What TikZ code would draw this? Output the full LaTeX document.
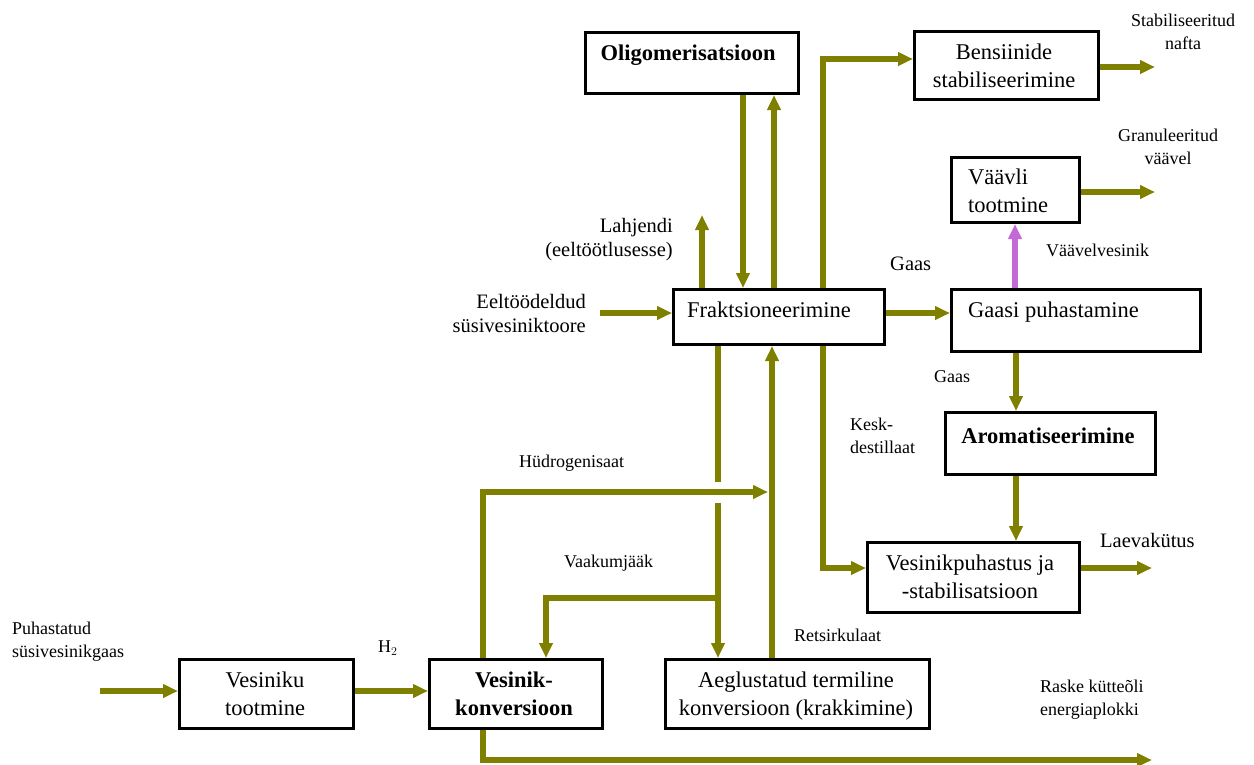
\documentclass[tikz,border=0pt]{standalone}
\usepackage{fontspec}
\setmainfont{Liberation Serif}
\usetikzlibrary{arrows.meta}
\definecolor{flowcol}{RGB}{128,128,0}
\definecolor{sulfcol}{RGB}{196,106,214}
\begin{document}
\begin{tikzpicture}[x=1pt,y=-1pt,
  box/.style={draw=black,line width=3pt,fill=white,anchor=north west,inner sep=0pt},
  flow/.style={draw=flowcol,line width=5.5pt,line join=miter},
  flowarrow/.style={flow,-{Triangle[length=15pt,width=13pt]}},
  sulfarrow/.style={draw=sulfcol,line width=5.5pt,-{Triangle[length=15pt,width=13pt]}},
  boxtxt/.style={font=\fontsize{22.5}{28}\selectfont,inner sep=0pt,align=center},
  boldtxt/.style={font=\fontsize{22.5}{28}\selectfont\bfseries,inner sep=0pt,align=center},
  lab/.style={font=\fontsize{20.5}{24.5}\selectfont,inner sep=0pt},
  small/.style={font=\fontsize{18}{23}\selectfont,inner sep=0pt}]
\useasboundingbox[fill=white] (0,0) rectangle (1254,764);

% boxes
\node[box,minimum width=213pt,minimum height=61pt] (olig) at (584,31) {};
\node[box,minimum width=184pt,minimum height=68pt] (bens) at (913,30) {};
\node[box,minimum width=128pt,minimum height=65pt] (vaav) at (950,156) {};
\node[box,minimum width=249pt,minimum height=62pt] (gaasi) at (950,288) {};
\node[box,minimum width=211pt,minimum height=55pt] (frak) at (672,288) {};
\node[box,minimum width=210pt,minimum height=62pt] (arom) at (944,411) {};
\node[box,minimum width=212pt,minimum height=70pt] (vesp) at (866,541) {};
\node[box,minimum width=174pt,minimum height=69pt] (vtoot) at (178,658) {};
\node[box,minimum width=173pt,minimum height=69pt] (vkonv) at (428,658) {};
\node[box,minimum width=264pt,minimum height=69pt] (aegl) at (664,658) {};

% box texts
\node[boldtxt] (tolig) at (688,55) {Oligomerisatsioon};
\node[boxtxt] (tbens) at (1004,66) {Bensiinide\\stabiliseerimine};
\node[boxtxt,anchor=west,align=left] (tvaav) at (968,191) {Väävli\\tootmine};
\node[boxtxt,anchor=west] (tgaasi) at (968,312) {Gaasi puhastamine};
\node[boxtxt,anchor=west] (tfrak) at (687,310) {Fraktsioneerimine};
\node[boldtxt] (tarom) at (1048,436) {Aromatiseerimine};
\node[boxtxt] (tvesp) at (970,577) {Vesinikpuhastus ja\\-stabilisatsioon};
\node[boxtxt] (tvtoot) at (265,694) {Vesiniku\\tootmine};
\node[boldtxt] (tvkonv) at (514,694) {Vesinik-\\konversioon};
\node[boxtxt] (taegl) at (796,696) {Aeglustatud termiline\\konversioon (krakkimine)};

% route points
\coordinate (inPuh) at (100,691);
\coordinate (hCorner) at (483,492);
\coordinate (hEnd) at (768,492);
\coordinate (rCorner) at (483,760);
\coordinate (rEnd) at (1152,760);
\coordinate (gapTop) at (718,482);
\coordinate (gapBot) at (718,503);
\coordinate (vJoin) at (718,598);
\coordinate (vCorner) at (546,598);
\coordinate (kCorner) at (823,568);
\coordinate (bCorner) at (823,59);
\coordinate (lahEnd) at (702,215);
\coordinate (eelStart) at (600,313);
\coordinate (vaavEnd) at (1155,192);
\coordinate (bensEnd) at (1155,67);
\coordinate (laevEnd) at (1152,568);

% connectors
\draw[flowarrow] (inPuh) -- (vtoot.west |- inPuh);
\draw[flowarrow] (vtoot.east |- inPuh) -- (vkonv.west |- inPuh);
\draw[flowarrow] (vkonv.north -| hCorner) -- (hCorner) -- (hEnd);
\draw[flowarrow] (vkonv.south -| rCorner) -- (rCorner) -- (rEnd);
\draw[flow] (frak.south -| gapTop) -- (gapTop);
\draw[flowarrow] (gapBot) -- (aegl.north -| gapBot);
\draw[flowarrow] (vJoin) -- (vCorner) -- (vkonv.north -| vCorner);
\draw[flowarrow] (aegl.north -| 772,0) -- (frak.south -| 772,0);
\draw[flowarrow] (frak.south -| kCorner) -- (kCorner) -- (vesp.west |- kCorner);
\draw[flowarrow] (frak.north -| bCorner) -- (bCorner) -- (bens.west |- bCorner);
\draw[flowarrow] (olig.south -| 743,0) -- (frak.north -| 743,0);
\draw[flowarrow] (frak.north -| 774,0) -- (olig.south -| 774,0);
\draw[flowarrow] (frak.north -| lahEnd) -- (lahEnd);
\draw[flowarrow] (eelStart) -- (frak.west |- eelStart);
\draw[flowarrow] (frak.east |- eelStart) -- (gaasi.west |- eelStart);
\draw[sulfarrow] (gaasi.north -| 1015,0) -- (vaav.south -| 1015,0);
\draw[flowarrow] (vaav.east |- vaavEnd) -- (vaavEnd);
\draw[flowarrow] (bens.east |- bensEnd) -- (bensEnd);
\draw[flowarrow] (gaasi.south -| 1016,0) -- (arom.north -| 1016,0);
\draw[flowarrow] (arom.south -| 1016,0) -- (vesp.north -| 1016,0);
\draw[flowarrow] (vesp.east |- laevEnd) -- (laevEnd);

% labels
\node[small,align=center] (lstab) at (1183,31.5) {Stabiliseeritud\\nafta};
\node[small,align=center] (lgran) at (1168,146.5) {Granuleeritud\\väävel};
\node[small,anchor=west] (lvaavv) at (1046,250) {Väävelvesinik};
\node[lab,anchor=west] (lgaas1) at (890,264) {Gaas};
\node[lab,anchor=east,align=right] (llahj) at (673,239.5) {Lahjendi\\(eeltöötlusesse)};
\node[lab,anchor=east,align=right] (leel) at (586,313.5) {Eeltöödeldud\\süsivesiniktoore};
\node[small,anchor=west] (lgaas2) at (934,377) {Gaas};
\node[small,anchor=west,align=left] (lkesk) at (850,436) {Kesk-\\destillaat};
\node[small,anchor=west] (lhudr) at (519,463) {Hüdrogenisaat};
\node[small,anchor=west] (lvaak) at (564,563) {Vaakumjääk};
\node[small,anchor=west] (lrets) at (794,635) {Retsirkulaat};
\node[lab,anchor=west] (llaev) at (1100,540) {Laevakütus};
\node[small,anchor=west,align=left] (lrask) at (1040,699.5) {Raske kütteõli\\energiaplokki};
\node[small,anchor=west,align=left] (lpuh) at (12,642) {Puhastatud\\süsivesinikgaas};
\node[small,anchor=west] (lh2) at (378,648) {H$_2$};
\end{tikzpicture}
\end{document}
